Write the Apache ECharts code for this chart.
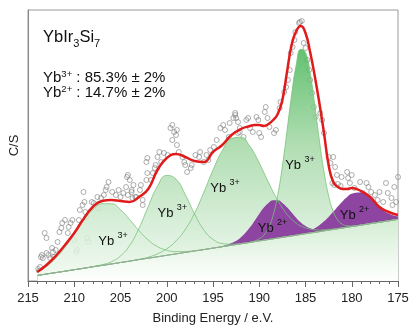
<!DOCTYPE html>
<html>
<head>
<meta charset="utf-8">
<title>YbIr3Si7 Yb 3d XPS</title>
<script src="https://cdn.jsdelivr.net/npm/echarts@6/dist/echarts.min.js"></script>
<style>
  html, body { margin: 0; padding: 0; background: #fff; }
  #main { width: 415px; height: 332px; }
</style>
</head>
<body>
<div id="main"></div>
<script>
// binding energy grid (eV), finer around the sharp 185 eV line
var energy = [214, 213, 212, 211, 210, 209, 208, 207, 206, 205, 204, 203, 202, 201, 200, 199, 198, 197, 196, 195, 194, 193, 192, 191,
    190.5, 190, 189.5, 189, 188.5, 188, 187.5, 187, 186.5, 186, 185.5, 185, 184.5, 184, 183.5, 183, 182.5, 182, 181.5, 181, 180.5, 180,
    179, 178, 177, 176, 175];

// linear background (C/S, arbitrary units)
var background = [5.5, 7.0, 8.4, 9.8, 11.3, 12.7, 14.2, 15.6, 17.0, 18.5, 19.9, 21.4, 22.8, 24.2, 25.7, 27.1, 28.6, 30.0, 31.4, 32.9, 34.3, 35.8, 37.2, 38.6,
    39.4, 40.1, 40.8, 41.5, 42.2, 43.0, 43.7, 44.4, 45.1, 45.8, 46.6, 47.3, 48.0, 48.7, 49.4, 50.2, 50.9, 51.6, 52.3, 53.0, 53.8, 54.5,
    55.9, 57.4, 58.8, 60.2, 61.7];

// total fit envelope
var fitCurve = [9, 16, 25, 36, 48, 62, 74, 80, 81, 80, 79, 84, 92, 111, 123, 127, 124, 120, 119, 129, 136, 146, 152, 155,
    156, 156, 155, 157, 161, 167, 181, 209, 236, 250, 255, 248, 229, 205, 178, 148, 116, 99, 94, 92, 92, 93,
    90, 84, 74, 69, 66];

// component heights above the background
var yb3Peak1 = [3.2, 7.5, 14.5, 24, 36, 48, 57, 61.7, 60.3, 52.8, 41.4, 29.0, 18.2, 10.2, 5.1, 2.3, 0.9, 0.3, 0, 0, 0, 0, 0, 0,
    0, 0, 0, 0, 0, 0, 0, 0, 0, 0, 0, 0, 0, 0, 0, 0, 0, 0, 0, 0, 0, 0,
    0, 0, 0, 0, 0];
var yb3Peak2 = [0, 0, 0, 0, 0, 0, 0.2, 0.7, 2.2, 6.6, 15.8, 31.4, 51.7, 70.6, 79.8, 74.7, 57.9, 37.2, 19.8, 8.7, 3.2, 1.0, 0.3, 0,
    0, 0, 0, 0, 0, 0, 0, 0, 0, 0, 0, 0, 0, 0, 0, 0, 0, 0, 0, 0, 0, 0,
    0, 0, 0, 0, 0];
var yb3Peak3 = [0, 0, 0, 0, 0, 0, 0, 0, 0, 0, 0, 0.3, 1.0, 3, 6.5, 13, 23, 37.6, 57.1, 78, 96, 106.6, 106.6, 96,
    87.7, 78, 67.6, 57.1, 47, 37.6, 29.4, 22.3, 16.6, 12, 8.4, 5.8, 3.9, 2.5, 1.6, 1.0, 0.6, 0.3, 0.2, 0.1, 0, 0,
    0, 0, 0, 0, 0];
var yb3Peak4 = [0, 0, 0, 0, 0, 0, 0, 0, 0, 0, 0, 0, 0, 0, 0, 0, 0, 0, 0, 0, 0, 0, 0, 0.2,
    0.7, 2.1, 5.1, 11.6, 23.5, 43.1, 71.0, 105.5, 141.2, 170.4, 185.1, 181.3, 160.0, 127.2, 91.2, 58.9, 34.3, 17.9, 8.5, 3.6, 1.4, 0.5,
    0, 0, 0, 0, 0];
var yb2Peak1 = [0, 0, 0, 0, 0, 0, 0, 0, 0, 0, 0, 0, 0, 0, 0, 0, 0, 0, 0, 0.1, 0.5, 2.1, 6.4, 15.1,
    20.9, 27.0, 32.6, 36.6, 38.5, 37.7, 34.4, 29.3, 23.4, 17.3, 12.0, 7.8, 4.7, 2.6, 1.4, 0.7, 0.3, 0.1, 0, 0, 0, 0,
    0, 0, 0, 0, 0];
var yb2Peak2 = [0, 0, 0, 0, 0, 0, 0, 0, 0, 0, 0, 0, 0, 0, 0, 0, 0, 0, 0, 0, 0, 0, 0, 0,
    0, 0, 0, 0, 0, 0, 0, 0.1, 0.2, 0.4, 0.8, 1.5, 2.5, 4.1, 6.4, 9.5, 13.2, 17.6, 22.2, 26.6, 30.2, 32.7,
    32.5, 25.3, 15.3, 7.2, 2.7];

// measured points [binding energy, C/S]
var measured = [
    [213.9, 12], [213.8, 10], [213.7, 14], [213.4, 23], [213.5, 26], [213.6, 24], [213.0, 28], [213.2, 48], [213.0, 43], [212.8, 26],
    [212.6, 23], [212.4, 33], [212.3, 29], [212.2, 24], [212.0, 31], [211.8, 39], [211.6, 49], [211.4, 53], [211.3, 58], [211.0, 61],
    [210.7, 48], [210.6, 54], [210.4, 58], [210.2, 61], [210.0, 41], [209.7, 31], [209.8, 29], [209.5, 61], [209.4, 71], [209.1, 76],
    [209.0, 89], [208.9, 79], [208.8, 69], [208.7, 64], [208.6, 43], [208.5, 39], [208.1, 79], [207.9, 78], [207.5, 84], [207.4, 73],
    [207.1, 83], [206.8, 86], [206.6, 91], [206.5, 94], [206.3, 99], [205.9, 89], [205.5, 86], [205.2, 91], [205.0, 84], [204.7, 88],
    [204.3, 104], [204.4, 94], [204.2, 86], [203.8, 89], [203.6, 96], [203.4, 84], [204.2, 106], [204.0, 101], [203.8, 91], [203.7, 83],
    [203.3, 84], [202.9, 91], [202.6, 81], [202.6, 76], [202.8, 96], [202.2, 101], [202.1, 108], [202.2, 119], [202.1, 123], [201.7, 101],
    [201.5, 108], [201.3, 113], [201.2, 116], [201.0, 124], [200.8, 129], [200.6, 119], [200.3, 128], [199.9, 126], [199.6, 153], [199.4, 156],
    [199.2, 149], [199.0, 146], [198.9, 151], [199.4, 141], [198.9, 136], [198.7, 129], [198.3, 124], [198.1, 119], [198.0, 116], [197.8, 109],
    [197.4, 113], [197.3, 116], [196.9, 126], [196.5, 124], [196.4, 129], [196.0, 119], [195.7, 126], [195.5, 121], [195.3, 131], [194.9, 134],
    [194.6, 141], [194.2, 153], [193.9, 156], [193.7, 151], [193.3, 144], [193.2, 158], [192.8, 163], [192.6, 168], [192.3, 159], [192.1, 153],
    [192.3, 148], [192.6, 166], [192.5, 163], [192.1, 149], [191.7, 144], [191.4, 161], [191.2, 163], [191.0, 153], [190.7, 149], [190.3, 164],
    [190.1, 161], [190.0, 148], [189.8, 144], [189.4, 169], [189.3, 174], [189.1, 163], [188.9, 154], [188.4, 148], [188.2, 151], [187.8, 173],
    [187.7, 179], [187.3, 189], [187.1, 194], [186.9, 201], [186.7, 211], [186.6, 228], [186.4, 234], [186.2, 241], [186.1, 249], [185.7, 258],
    [185.6, 259], [185.4, 260], [185.2, 238], [185.0, 233], [184.8, 221], [184.6, 211], [184.5, 201], [184.3, 188], [184.1, 174], [183.9, 164],
    [183.4, 168], [183.2, 161], [183.0, 148], [182.5, 124], [182.3, 118], [182.0, 124], [181.8, 114], [181.6, 106], [182.1, 98], [181.9, 96],
    [181.5, 97], [181.2, 95], [181.1, 104], [180.5, 109], [180.4, 103], [180.0, 106], [180.2, 98], [179.7, 93], [179.1, 99], [178.8, 88],
    [178.4, 98], [178.2, 94], [177.9, 89], [177.5, 86], [177.2, 81], [177.0, 89], [176.6, 79], [176.3, 98], [176.1, 88], [175.7, 83],
    [175.6, 76], [175.4, 94], [175.2, 79], [175.0, 104]
];

// component labels: [binding energy, C/S] of the label's left edge, and valence
var peakLabels = [
    {name: '3+', value: [207.4, 40]},
    {name: '3+', value: [201.0, 68]},
    {name: '3+', value: [195.3, 93]},
    {name: '3+', value: [187.2, 116]},
    {name: '2+', value: [190.15, 53]},
    {name: '2+', value: [181.3, 66]}
];

var FONT = '"Liberation Sans", Arial, sans-serif';

function pairs(arr) {
    return energy.map(function (e, i) {
        return [e, arr[i]];
    });
}

// 峰顶 = 背景 + 峰高
function onBackground(heights) {
    return energy.map(function (e, i) {
        return [e, background[i] + heights[i]];
    });
}

var greenFill = {
    type: 'linear', x: 0, y: 10, x2: 0, y2: 281, global: true,
    colorStops: [
        {offset: 0, color: '#37ad4a'},
        {offset: 0.16, color: '#4db85d'},
        {offset: 0.5, color: '#a4d8a6'},
        {offset: 1, color: '#f3faf3'}
    ]
};

// 面积填到坐标轴, 背景以下的部分后面被背景层盖住
function peak(heights, isDivalent) {
    return {
        type: 'line', data: onBackground(heights), smooth: 0.5,
        showSymbol: false, silent: true,
        lineStyle: isDivalent ? {width: 0} : {color: '#78c27a', width: 0.8},
        areaStyle: isDivalent ? {color: '#8d45a1', opacity: 1, origin: 'start'} : {color: greenFill, opacity: 0.85, origin: 'start'}
    };
}

var chart = echarts.init(document.getElementById('main'));

var series = [
    peak(yb3Peak1, false),
    peak(yb3Peak2, false),
    peak(yb3Peak3, false),
    peak(yb3Peak4, false),
    peak(yb2Peak1, true),
    peak(yb2Peak2, true),
    {
        type: 'line', data: pairs(background), showSymbol: false, silent: true,
        lineStyle: {color: '#78c27a', width: 1},
        areaStyle: {
            origin: 'start', opacity: 1,
            color: {
                type: 'linear', x: 0, y: 0, x2: 0, y2: 1,
                colorStops: [{offset: 0, color: '#d2edd2'}, {offset: 1, color: '#ffffff'}]
            }
        }
    },
    {
        type: 'line', data: pairs(background), showSymbol: false, silent: true,
        lineStyle: {color: '#a6a6a6', width: 0.8}
    },
    {
        type: 'scatter', data: measured, symbol: 'circle', symbolSize: 5, silent: true,
        itemStyle: {color: 'rgba(0,0,0,0)', borderColor: '#808080', borderWidth: 0.8}
    },
    {
        type: 'line', data: pairs(fitCurve), smooth: 0.5, showSymbol: false, silent: true,
        lineStyle: {color: '#e01b1b', width: 2.5}
    }
];

chart.setOption({
    animation: false,
    grid: {left: 22, right: 17, top: 10, bottom: 51, show: true, borderColor: '#999', borderWidth: 1},
    xAxis: {
        type: 'value', inverse: true, min: 175, max: 215, interval: 5,
        name: 'Binding Energy / e.V.', nameLocation: 'middle', nameGap: 31,
        nameTextStyle: {fontSize: 13, color: '#222', fontFamily: FONT},
        axisLine: {lineStyle: {color: '#666', width: 1}},
        axisTick: {length: 6, lineStyle: {color: '#666'}},
        minorTick: {show: true, splitNumber: 5, length: 3, lineStyle: {color: '#666'}},
        splitLine: {show: false},
        axisLabel: {fontSize: 13, color: '#222', margin: 11, fontFamily: FONT}
    },
    yAxis: {
        type: 'value', min: 0, max: 271,
        name: 'C/S', nameLocation: 'middle', nameGap: 7,
        nameTextStyle: {fontSize: 13, color: '#222', fontFamily: FONT},
        axisLine: {show: true, lineStyle: {color: '#888'}},
        axisTick: {show: false},
        axisLabel: {show: false},
        splitLine: {show: false}
    },
    series: series
});

// 左上角文字
var texts = [{
    type: 'text', x: 43, y: 25, silent: true, z: 100,
    style: {
        text: '{m|YbIr}{s|3}{m|Si}{s|7}', align: 'left', verticalAlign: 'top',
        rich: {
            m: {fontSize: 16.5, lineHeight: 24, fill: '#111', fontFamily: FONT},
            s: {fontSize: 11, verticalAlign: 'bottom', fill: '#111', fontFamily: FONT}
        }
    }
}, {
    type: 'text', x: 43, y: 69, silent: true, z: 100,
    style: {
        text: '{m|Yb}{s|3+}{m| : 85.3% ± 2%}', align: 'left', verticalAlign: 'top',
        rich: {
            m: {fontSize: 15, lineHeight: 18, fill: '#111', fontFamily: FONT},
            s: {fontSize: 9.5, verticalAlign: 'top', fill: '#111', fontFamily: FONT}
        }
    }
}, {
    type: 'text', x: 43, y: 84, silent: true, z: 100,
    style: {
        text: '{m|Yb}{s|2+}{m| : 14.7% ± 2%}', align: 'left', verticalAlign: 'top',
        rich: {
            m: {fontSize: 15, lineHeight: 18, fill: '#111', fontFamily: FONT},
            s: {fontSize: 9.5, verticalAlign: 'top', fill: '#111', fontFamily: FONT}
        }
    }
}];

// 分峰标注: 按数据坐标换算成像素
peakLabels.forEach(function (lb) {
    var pt = chart.convertToPixel({gridIndex: 0}, lb.value);
    texts.push({
        type: 'text', x: pt[0], y: pt[1] - 10, silent: true, z: 100,
        style: {
            text: '{m|Yb} {s|' + lb.name + '}', align: 'left', verticalAlign: 'top',
            rich: {
                m: {fontSize: 13, lineHeight: 20, fill: '#111', fontFamily: FONT},
                s: {fontSize: 9, verticalAlign: 'top', fill: '#111', fontFamily: FONT}
            }
        }
    });
});

chart.setOption({graphic: texts});
</script>
</body>
</html>
